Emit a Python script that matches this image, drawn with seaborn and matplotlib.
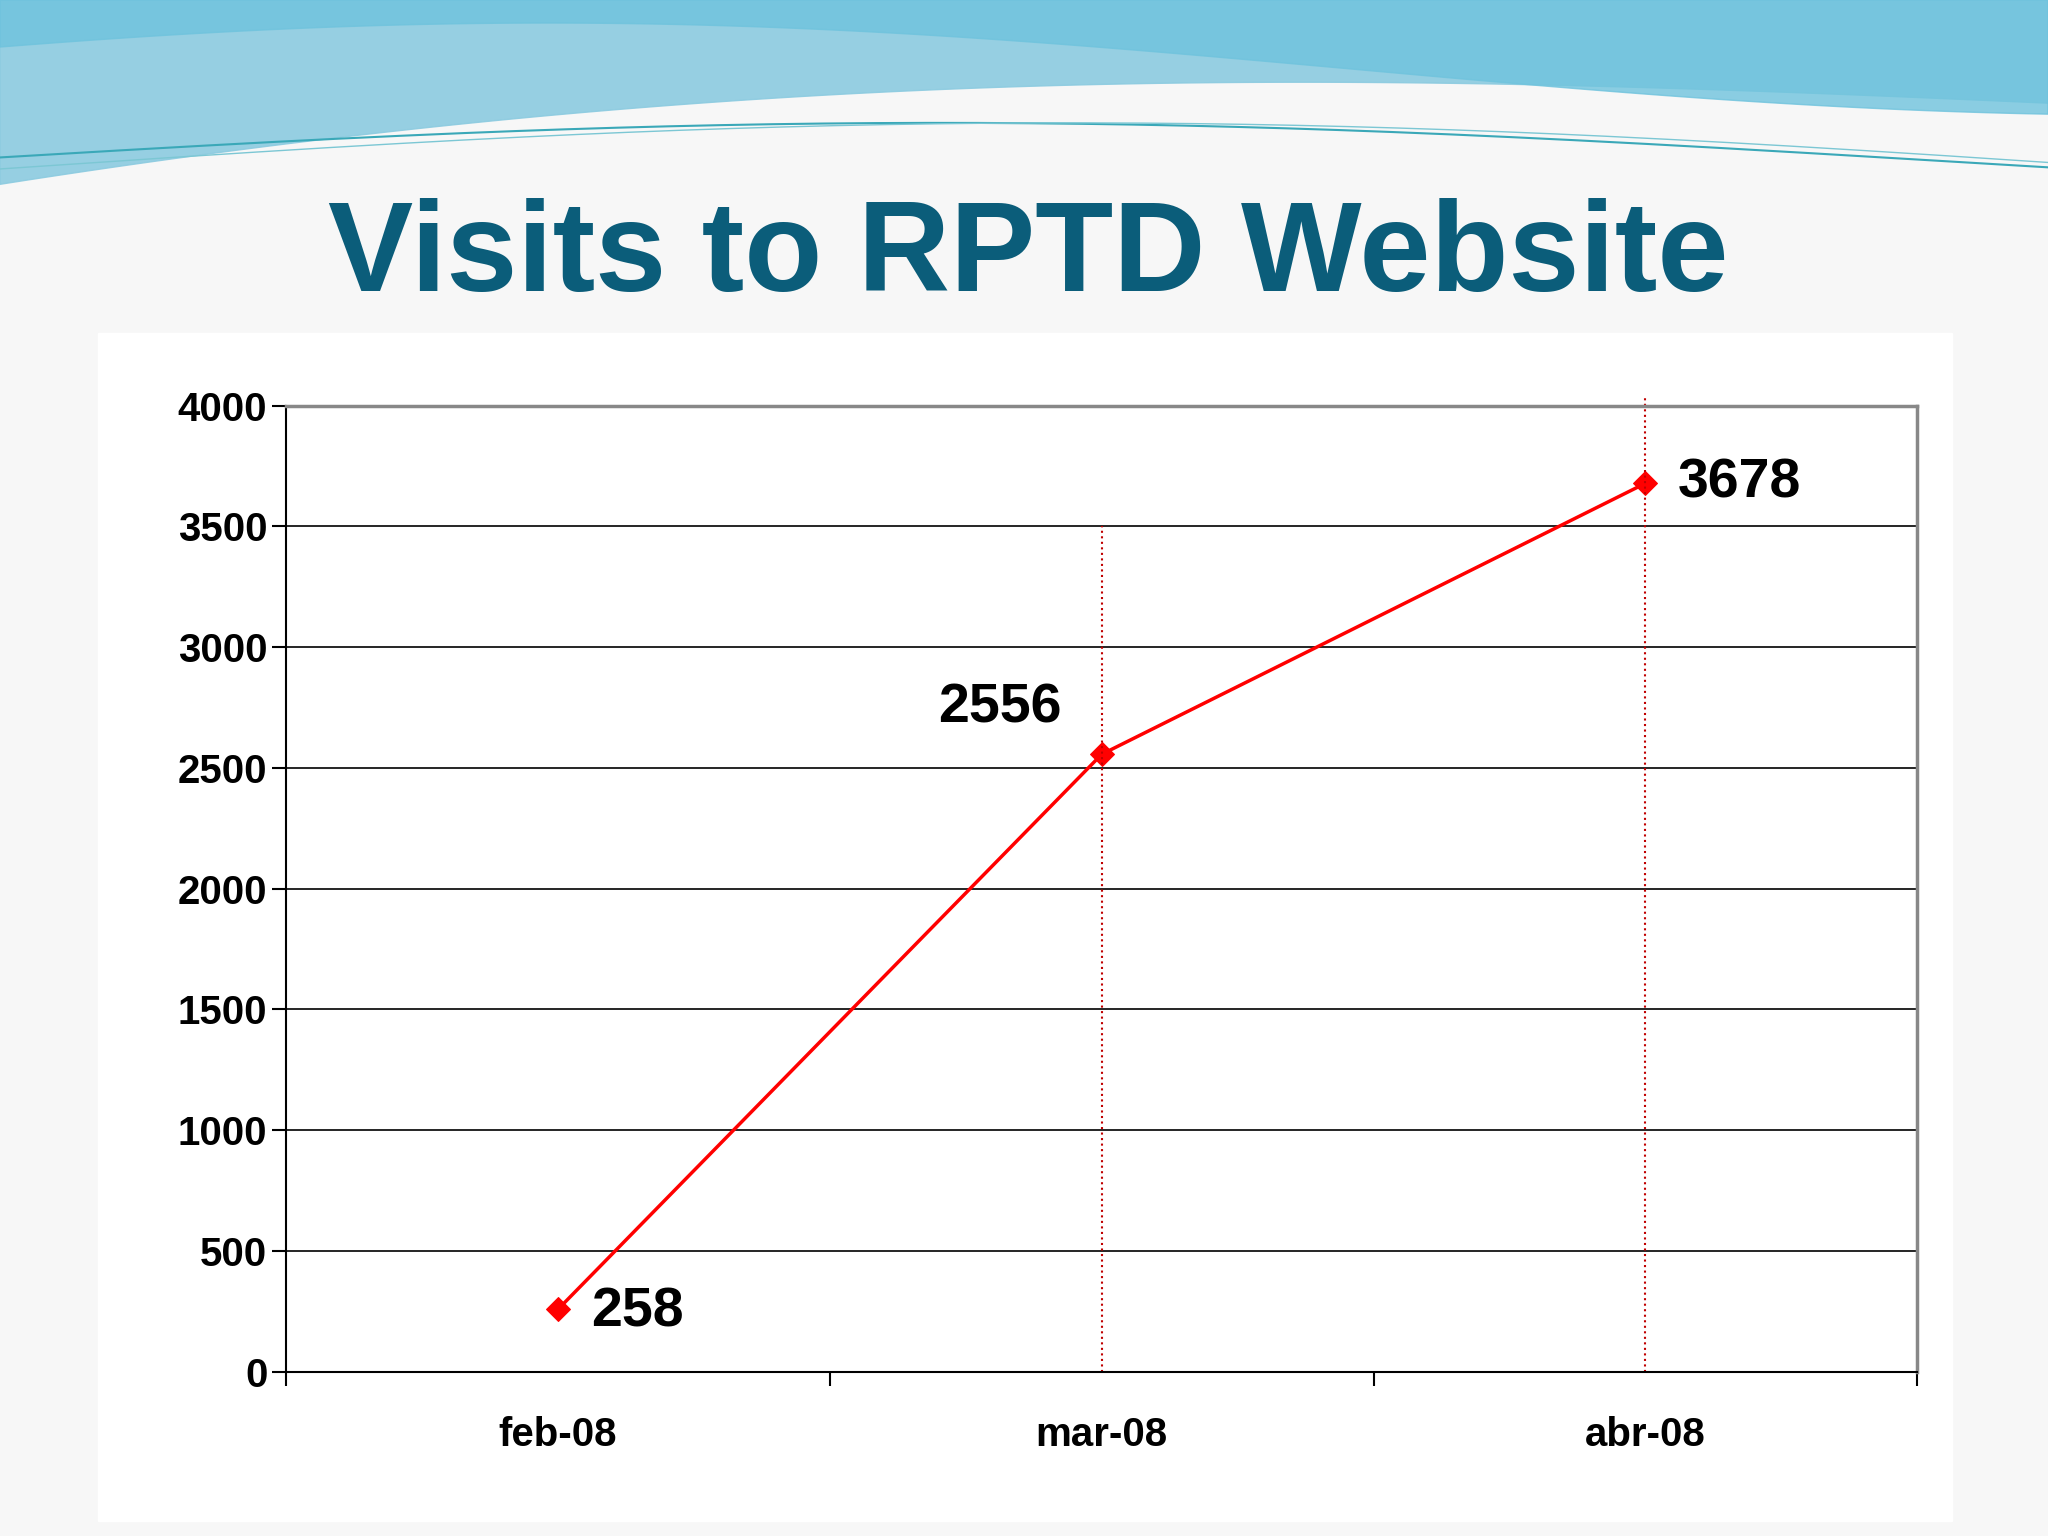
import numpy as np
import pandas as pd
import matplotlib.pyplot as plt
import seaborn as sns

months = ["feb-08", "mar-08", "abr-08"]
visits = [258, 2556, 3678]

df = pd.DataFrame({"pos": range(len(months)), "visits": visits})

sns.set_style("white")
plt.rcParams["font.family"] = ["Liberation Sans", "DejaVu Sans"]

fig = plt.figure(figsize=(20.48, 15.36), dpi=100)
fig.patch.set_facecolor("#f7f7f7")

# decorative waves along the top of the slide
bg = fig.add_axes([0, 0, 1, 1], zorder=-10)
bg.set_xlim(0, 1)
bg.set_ylim(0, 1)
bg.axis("off")
xs = np.linspace(0, 1, 200)
bg.fill_between(xs, 1.0, 0.93 - 0.05 * (1 - xs) ** 3 + 0.02 * np.sin(xs * 3), color="#8ccbe0", alpha=0.9)
bg.fill_between(xs, 1.0, 0.955 + 0.03 * np.sin(xs * 4 + 0.5), color="#6fc3dd", alpha=0.8)
bg.plot(xs, 0.895 + 0.025 * np.sin(xs * 3.2 + 0.1), color="#3aa8b8", lw=1.5)
bg.plot(xs, 0.89 + 0.03 * np.sin(xs * 3.0), color="#7cc7d4", lw=1.0)
bg.add_patch(plt.Rectangle((0.048, 0.01), 0.905, 0.773, color="white", zorder=1))

fig.text(0.502, 0.832, "Visits to RPTD Website", ha="center", va="center",
         fontsize=92, fontweight="bold", color="#0b5d7a")

ax = fig.add_axes([0.1397, 0.107, 0.7965, 0.629])
ax.set_facecolor("white")
sns.lineplot(data=df, x="pos", y="visits", ax=ax, color="red", lw=2.5,
             marker="D", markersize=12, markeredgecolor="red")

ax.set_xlim(-0.5, 2.5)
ax.set_ylim(0, 4000)
ax.set_yticks(range(0, 4001, 500))
ax.set_xticks([-0.5, 0.5, 1.5, 2.5])
ax.set_xticklabels([])
ax.set_xticks(df["pos"], labels=months, minor=True)
ax.tick_params(axis="x", which="minor", bottom=False, pad=30, labelcolor="black")
ax.tick_params(axis="x", which="major", bottom=True, length=10, width=1.5,
               direction="out", color="black")
ax.tick_params(axis="y", left=True, length=10, width=1.5, color="black", labelcolor="black")
for lab in ax.get_xticklabels(minor=True) + ax.get_yticklabels():
    lab.set_fontsize(29)
    lab.set_fontweight("bold")
ax.grid(axis="y", color="black", lw=1.2)
ax.set_xlabel("")
ax.set_ylabel("")
for s in ["top", "right"]:
    ax.spines[s].set_color("#888888")
    ax.spines[s].set_linewidth(2.5)
for s in ["left", "bottom"]:
    ax.spines[s].set_color("black")
    ax.spines[s].set_linewidth(1.5)

ax.axvline(1, ymax=3500 / 4000, color="#c00000", ls=":", lw=1.5)
ax.axvline(2, ymax=1.01, color="#c00000", ls=":", lw=1.5, clip_on=False)

ax.annotate(str(visits[0]), (0, visits[0]), xytext=(24, -2), textcoords="offset points",
            fontsize=40, fontweight="bold", va="center", ha="left", color="black")
ax.annotate(str(visits[1]), (1, visits[1]), xytext=(-73, 33), textcoords="offset points",
            fontsize=40, fontweight="bold", va="center", ha="center", color="black")
ax.annotate(str(visits[2]), (2, visits[2]), xytext=(23, 0), textcoords="offset points",
            fontsize=40, fontweight="bold", va="center", ha="left", color="black")

fig.savefig("out.png", dpi=100, facecolor=fig.get_facecolor())
